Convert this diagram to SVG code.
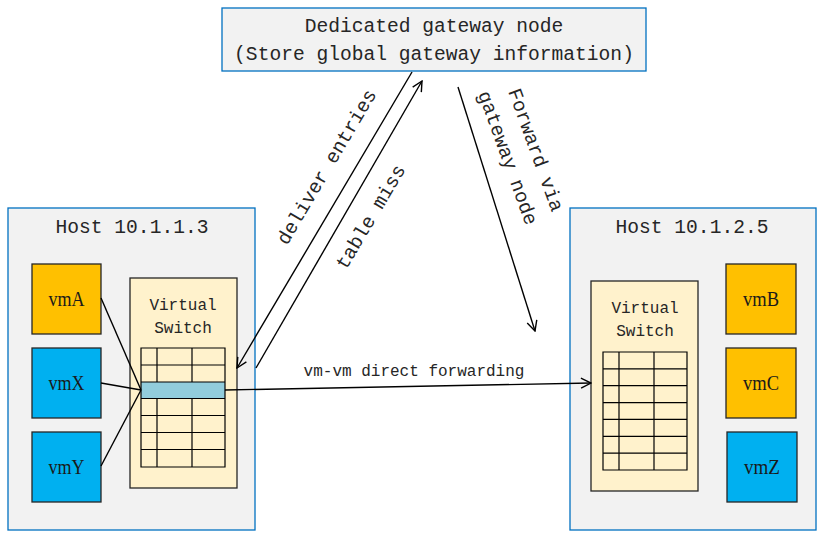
<svg xmlns="http://www.w3.org/2000/svg" width="827" height="539" viewBox="0 0 827 539">
<style>
.box{fill:#f2f2f2;stroke:#0070c0;stroke-width:1.3}
.sw{fill:#fff2cc;stroke:#262626;stroke-width:1.3}
.vmo{fill:#ffc000;stroke:#262626;stroke-width:1.3}
.vmb{fill:#00b0f0;stroke:#262626;stroke-width:1.3}
.tbl{fill:none;stroke:#000;stroke-width:1.2}
.mono{font-family:"Liberation Mono","DejaVu Sans Mono",monospace;fill:#262626}
.big{font-size:19.6px}
.mid{font-size:16px}
.vm{font-family:"Liberation Serif","Times New Roman",serif;font-size:22px;fill:#1a1a1a;text-anchor:middle}
.c{stroke:#000;stroke-width:1.4;fill:none}
</style>
<defs>
<marker id="ah" viewBox="0 0 12 12" refX="11" refY="6" markerWidth="12" markerHeight="12" markerUnits="userSpaceOnUse" orient="auto">
<path d="M1,1 L11,6 L1,11" fill="none" stroke="#000" stroke-width="1.4"/>
</marker>
</defs>

<g id="gateway">
<rect class="box" x="222" y="8" width="424" height="63"/>
<text class="mono big" x="434" y="32" text-anchor="middle">Dedicated gateway node</text>
<text class="mono big" x="434" y="60" text-anchor="middle">(Store global gateway information)</text>
</g>

<g id="host1">
<rect class="box" x="8" y="208" width="247" height="322"/>
<text class="mono big" x="132" y="233" text-anchor="middle">Host 10.1.1.3</text>
</g>
<g id="vmA"><rect class="vmo" x="32" y="264" width="69" height="70"/><text class="vm" x="66.5" y="306" textLength="36" lengthAdjust="spacingAndGlyphs">vmA</text></g>
<g id="vmX"><rect class="vmb" x="32" y="348" width="69" height="70"/><text class="vm" x="66.5" y="390" textLength="36" lengthAdjust="spacingAndGlyphs">vmX</text></g>
<g id="vmY"><rect class="vmb" x="32" y="432" width="69" height="70"/><text class="vm" x="66.5" y="474" textLength="36" lengthAdjust="spacingAndGlyphs">vmY</text></g>
<g id="switch1">
<rect class="sw" x="130" y="278" width="107" height="210"/>
<text class="mono mid" x="183" y="310" text-anchor="middle">Virtual</text>
<text class="mono mid" x="183" y="333" text-anchor="middle">Switch</text>
<rect x="141" y="382" width="84" height="16.5" fill="#92cddc"/>
<path class="tbl" d="M141,348H225V467H141Z M141,365H225 M141,382H225 M141,398.5H225 M141,415.5H225 M141,432.5H225 M141,449.5H225 M157,348V382 M157,398.5V467 M192,348V382 M192,398.5V467"/>
</g>

<g id="host2">
<rect class="box" x="570" y="208" width="246" height="322"/>
<text class="mono big" x="692" y="233" text-anchor="middle">Host 10.1.2.5</text>
</g>
<g id="switch2">
<rect class="sw" x="591" y="281" width="107" height="210"/>
<text class="mono mid" x="645" y="313" text-anchor="middle">Virtual</text>
<text class="mono mid" x="645" y="336" text-anchor="middle">Switch</text>
<path class="tbl" d="M603,352H687V470H603Z M603,368.8H687 M603,385.7H687 M603,402.6H687 M603,419.4H687 M603,436.3H687 M603,453.1H687 M619,352V470 M654,352V470"/>
</g>
<g id="vmB"><rect class="vmo" x="726" y="264" width="70" height="70"/><text class="vm" x="761" y="306" textLength="36" lengthAdjust="spacingAndGlyphs">vmB</text></g>
<g id="vmC"><rect class="vmo" x="726" y="348" width="70" height="70"/><text class="vm" x="761" y="390" textLength="36" lengthAdjust="spacingAndGlyphs">vmC</text></g>
<g id="vmZ"><rect class="vmb" x="727" y="432" width="70" height="70"/><text class="vm" x="762" y="474" textLength="36" lengthAdjust="spacingAndGlyphs">vmZ</text></g>

<g id="connectors">
<line class="c" x1="101" y1="298" x2="141" y2="390"/>
<line class="c" x1="101" y1="383" x2="141" y2="390"/>
<line class="c" x1="101" y1="466" x2="141" y2="390"/>
<line class="c" x1="412" y1="72" x2="237" y2="368" marker-end="url(#ah)"/>
<line class="c" x1="256" y1="368" x2="422" y2="81" marker-end="url(#ah)"/>
<line class="c" x1="458" y1="87" x2="535" y2="331" marker-end="url(#ah)"/>
<line class="c" x1="225" y1="390" x2="591" y2="383" marker-end="url(#ah)"/>
<text class="mono mid" x="414" y="376" text-anchor="middle">vm-vm direct forwarding</text>
<text class="mono big" x="0" y="0" text-anchor="middle" transform="translate(332,170) rotate(-59.4)">deliver entries</text>
<text class="mono big" x="0" y="0" text-anchor="middle" transform="translate(376,220) rotate(-59.4)">table miss</text>
<text class="mono big" x="0" y="0" text-anchor="middle" transform="translate(530,152) rotate(70)">Forward via</text>
<text class="mono big" x="0" y="0" text-anchor="middle" transform="translate(502,160) rotate(70)">gateway node</text>
</g>
</svg>
